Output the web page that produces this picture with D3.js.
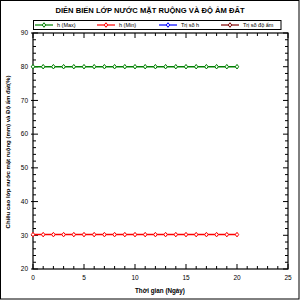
<!DOCTYPE html>
<html>
<head>
<meta charset="utf-8">
<script src="https://cdn.jsdelivr.net/npm/d3@7"></script>
<style>
  body { margin: 0; background: #fff; }
  svg { display: block; font-family: Arial, "Liberation Sans", sans-serif; }
</style>
</head>
<body>
<div id="chart"></div>
<script>
const days = [0, 1, 2, 3, 4, 5, 6, 7, 8, 9, 10, 11, 12, 13, 14, 15, 16, 17, 18, 19, 20];
const hMax = [80, 80, 80, 80, 80, 80, 80, 80, 80, 80, 80, 80, 80, 80, 80, 80, 80, 80, 80, 80, 80];
const hMin = [30.2, 30.2, 30.2, 30.2, 30.2, 30.2, 30.2, 30.2, 30.2, 30.2, 30.2, 30.2, 30.2, 30.2, 30.2, 30.2, 30.2, 30.2, 30.2, 30.2, 30.2];
const hValue = [];
const moisture = [];
const seriesNames = ["h (Max)", "h (Min)", "Trị số h", "Trị số độ ẩm"];
const seriesColors = ["#008000", "#ff0000", "#0000ff", "#800000"];
const xTicks = [0, 5, 10, 15, 20, 25];
const yTicks = [20, 30, 40, 50, 60, 70, 80, 90];

const chartW = 300, chartH = 300;
const plotL = 33, plotR = 288, plotT = 33, plotB = 269;

const svg = d3.select("#chart").append("svg")
  .attr("width", chartW)
  .attr("height", chartH);

svg.append("rect")
  .attr("x", 0.5).attr("y", 0.5)
  .attr("width", chartW - 1.5).attr("height", chartH - 1.5)
  .attr("fill", "#fff").attr("stroke", "#000");

var x = d3.scaleLinear().domain([0, 25]).range([plotL, plotR]);
var y = d3.scaleLinear().domain([20, 90]).range([plotB, plotT]);

// title
svg.append("text")
  .attr("x", 150).attr("y", 13)
  .attr("text-anchor", "middle")
  .attr("font-size", 7.6).attr("font-weight", "bold")
  .text("DIỄN BIẾN LỚP NƯỚC MẶT RUỘNG VÀ ĐỘ ẨM ĐẤT");

// plot frame
svg.append("rect")
  .attr("x", plotL).attr("y", plotT)
  .attr("width", plotR - plotL).attr("height", plotB - plotT)
  .attr("fill", "none").attr("stroke", "#000").attr("stroke-width", 1.2);

// ticks on all four sides, pointing inward
var xMinor = d3.range(0, 26, 1);
var yMinor = d3.range(20, 91, 2);
var ticks = svg.append("g").attr("stroke", "#000").attr("stroke-width", 1);

xMinor.forEach(function (v) {
  var len = v % 5 === 0 ? 5 : 3;
  ticks.append("line").attr("x1", x(v)).attr("x2", x(v)).attr("y1", plotB).attr("y2", plotB - len);
  ticks.append("line").attr("x1", x(v)).attr("x2", x(v)).attr("y1", plotT).attr("y2", plotT + len);
});
yMinor.forEach(function (v) {
  var major = v % 10 === 0;
  var len = major ? 5 : 3;
  ticks.append("line").attr("x1", major ? plotL - 2 : plotL).attr("x2", plotL + len).attr("y1", y(v)).attr("y2", y(v));
  ticks.append("line").attr("x1", plotR).attr("x2", plotR - len).attr("y1", y(v)).attr("y2", y(v));
});

// tick labels
svg.append("g").selectAll("text")
  .data(xTicks).enter().append("text")
  .attr("x", function (d) { return x(d); })
  .attr("y", plotB + 11)
  .attr("text-anchor", "middle")
  .attr("font-size", 6.5)
  .text(function (d) { return d; });

svg.append("g").selectAll("text")
  .data(yTicks).enter().append("text")
  .attr("x", plotL - 5)
  .attr("y", function (d) { return y(d) + 2.3; })
  .attr("text-anchor", "end")
  .attr("font-size", 6.5)
  .text(function (d) { return d; });

// axis titles
svg.append("text")
  .attr("x", 160).attr("y", 293)
  .attr("text-anchor", "middle")
  .attr("font-size", 6.3).attr("font-weight", "bold")
  .text("Thời gian (Ngày)");

svg.append("text")
  .attr("transform", "translate(10," + 152 + ") rotate(-90)")
  .attr("text-anchor", "middle")
  .attr("font-size", 6).attr("font-weight", "bold")
  .text("Chiều cao lớp nước mặt ruộng (mm) và Độ ẩm đất(%)");

// series
function marker(g, cx, cy, color) {
  g.append("path")
    .attr("d", "M" + cx + "," + (cy - 2.3) + "L" + (cx + 1.7) + "," + cy + "L" + cx + "," + (cy + 2.3) + "L" + (cx - 1.7) + "," + cy + "Z")
    .attr("fill", "#fff").attr("stroke", color).attr("stroke-width", 1);
}

var allSeries = [hMax, hMin, hValue, moisture];
var line = d3.line()
  .x(function (d) { return x(d[0]); })
  .y(function (d) { return y(d[1]); });

allSeries.forEach(function (vals, i) {
  var pts = vals.map(function (v, k) { return [days[k], v]; });
  if (!pts.length) return;
  var g = svg.append("g");
  g.append("path").datum(pts)
    .attr("d", line)
    .attr("fill", "none")
    .attr("stroke", seriesColors[i])
    .attr("stroke-width", 1.5);
  pts.forEach(function (p) { marker(g, x(p[0]), y(p[1]), seriesColors[i]); });
});

// legend
var lg = svg.append("g");
lg.append("rect")
  .attr("x", 33.5).attr("y", 20.5)
  .attr("width", 247.5).attr("height", 9)
  .attr("fill", "#fff").attr("stroke", "#000").attr("stroke-width", 1);

var legendX = [35, 97, 159, 221];
seriesNames.forEach(function (name, i) {
  var lx = legendX[i];
  lg.append("line")
    .attr("x1", lx).attr("x2", lx + 18)
    .attr("y1", 25).attr("y2", 25)
    .attr("stroke", seriesColors[i]).attr("stroke-width", 1.2);
  marker(lg, lx + 9, 25, seriesColors[i]);
  lg.append("text")
    .attr("x", lx + 22).attr("y", 27.2)
    .attr("font-size", 5.5)
    .text(name);
});
</script>
</body>
</html>
